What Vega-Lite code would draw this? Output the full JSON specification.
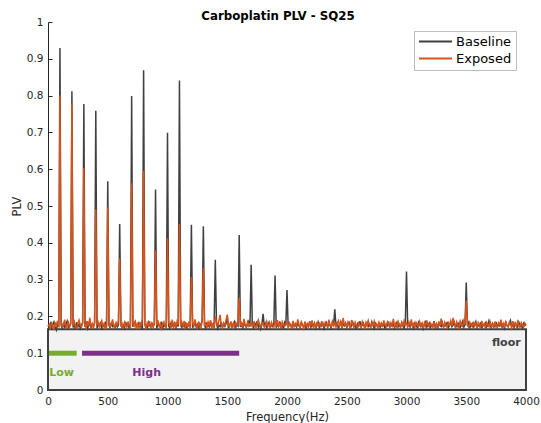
{
"$schema": "https://vega.github.io/schema/vega-lite/v6.json",
"width": 478, "height": 368, "autosize": {"type": "none"},
"padding": {"left": 48, "top": 22, "right": 15, "bottom": 33},
"background": "white",
"title": {"text": "Carboplatin PLV - SQ25", "font": "DejaVu Sans", "fontSize": 11.8, "fontWeight": "bold", "color": "#000000", "offset": -6, "dx": -9},
"config": {
  "view": {"stroke": null},
  "axis": {"grid": false, "domainColor": "#262626", "tickColor": "#262626", "labelColor": "#262626", "titleColor": "#262626", "labelFont": "DejaVu Sans", "titleFont": "DejaVu Sans", "labelFontSize": 10.5, "titleFontSize": 11.5, "titleFontWeight": "normal", "tickSize": -4, "domainWidth": 1, "tickWidth": 1, "labelFlush": false, "labelOverlap": false},
  "axisX": {"labelPadding": 10, "titlePadding": 5},
  "axisY": {"labelPadding": 9, "titlePadding": 4}
},
"datasets": {
"plv": [
{"f":0,"b":0.176,"e":0.174},{"f":10,"b":0.172,"e":0.178},{"f":20,"b":0.181,"e":0.169},{"f":30,"b":0.168,"e":0.185},{"f":40,"b":0.177,"e":0.174},{"f":50,"b":0.185,"e":0.166},{"f":60,"b":0.170,"e":0.182},{"f":70,"b":0.163,"e":0.176},{"f":80,"b":0.179,"e":0.188},{"f":90,"b":0.174,"e":0.171},
{"f":100,"b":0.929,"e":0.800},{"f":110,"b":0.176,"e":0.183},{"f":120,"b":0.166,"e":0.172},{"f":130,"b":0.183,"e":0.179},{"f":140,"b":0.171,"e":0.191},{"f":150,"b":0.178,"e":0.168},{"f":160,"b":0.187,"e":0.177},{"f":170,"b":0.169,"e":0.184},{"f":180,"b":0.175,"e":0.170},{"f":190,"b":0.181,"e":0.179},
{"f":200,"b":0.812,"e":0.777},{"f":210,"b":0.170,"e":0.175},{"f":220,"b":0.178,"e":0.186},{"f":230,"b":0.165,"e":0.173},{"f":240,"b":0.184,"e":0.168},{"f":250,"b":0.172,"e":0.181},{"f":260,"b":0.179,"e":0.190},{"f":270,"b":0.168,"e":0.176},{"f":280,"b":0.176,"e":0.171},{"f":290,"b":0.183,"e":0.183},
{"f":300,"b":0.777,"e":0.603},{"f":310,"b":0.171,"e":0.178},{"f":320,"b":0.186,"e":0.169},{"f":330,"b":0.167,"e":0.187},{"f":340,"b":0.175,"e":0.174},{"f":350,"b":0.180,"e":0.196},{"f":360,"b":0.169,"e":0.172},{"f":370,"b":0.177,"e":0.180},{"f":380,"b":0.173,"e":0.167},{"f":390,"b":0.182,"e":0.185},
{"f":400,"b":0.759,"e":0.491},{"f":410,"b":0.168,"e":0.176},{"f":420,"b":0.179,"e":0.184},{"f":430,"b":0.174,"e":0.170},{"f":440,"b":0.185,"e":0.179},{"f":450,"b":0.166,"e":0.188},{"f":460,"b":0.178,"e":0.173},{"f":470,"b":0.172,"e":0.181},{"f":480,"b":0.181,"e":0.168},{"f":490,"b":0.170,"e":0.177},
{"f":500,"b":0.567,"e":0.496},{"f":510,"b":0.176,"e":0.186},{"f":520,"b":0.169,"e":0.171},{"f":530,"b":0.184,"e":0.179},{"f":540,"b":0.173,"e":0.192},{"f":550,"b":0.178,"e":0.174},{"f":560,"b":0.165,"e":0.169},{"f":570,"b":0.182,"e":0.183},{"f":580,"b":0.171,"e":0.176},{"f":590,"b":0.177,"e":0.189},
{"f":600,"b":0.451,"e":0.357},{"f":610,"b":0.183,"e":0.172},{"f":620,"b":0.170,"e":0.180},{"f":630,"b":0.176,"e":0.167},{"f":640,"b":0.168,"e":0.184},{"f":650,"b":0.185,"e":0.177},{"f":660,"b":0.174,"e":0.171},{"f":670,"b":0.179,"e":0.186},{"f":680,"b":0.167,"e":0.175},{"f":690,"b":0.181,"e":0.169},
{"f":700,"b":0.799,"e":0.562},{"f":710,"b":0.172,"e":0.181},{"f":720,"b":0.178,"e":0.174},{"f":730,"b":0.186,"e":0.188},{"f":740,"b":0.169,"e":0.170},{"f":750,"b":0.175,"e":0.179},{"f":760,"b":0.182,"e":0.166},{"f":770,"b":0.171,"e":0.185},{"f":780,"b":0.177,"e":0.173},{"f":790,"b":0.165,"e":0.196},
{"f":800,"b":0.869,"e":0.596},{"f":810,"b":0.180,"e":0.177},{"f":820,"b":0.173,"e":0.168},{"f":830,"b":0.168,"e":0.182},{"f":840,"b":0.184,"e":0.175},{"f":850,"b":0.176,"e":0.187},{"f":860,"b":0.170,"e":0.171},{"f":870,"b":0.181,"e":0.180},{"f":880,"b":0.174,"e":0.169},{"f":890,"b":0.179,"e":0.184},
{"f":900,"b":0.545,"e":0.379},{"f":910,"b":0.167,"e":0.176},{"f":920,"b":0.183,"e":0.189},{"f":930,"b":0.175,"e":0.172},{"f":940,"b":0.171,"e":0.180},{"f":950,"b":0.186,"e":0.167},{"f":960,"b":0.169,"e":0.178},{"f":970,"b":0.177,"e":0.185},{"f":980,"b":0.172,"e":0.174},{"f":990,"b":0.180,"e":0.170},
{"f":1000,"b":0.699,"e":0.412},{"f":1010,"b":0.174,"e":0.183},{"f":1020,"b":0.168,"e":0.176},{"f":1030,"b":0.183,"e":0.169},{"f":1040,"b":0.176,"e":0.191},{"f":1050,"b":0.171,"e":0.173},{"f":1060,"b":0.185,"e":0.181},{"f":1070,"b":0.166,"e":0.168},{"f":1080,"b":0.179,"e":0.186},{"f":1090,"b":0.173,"e":0.177},
{"f":1100,"b":0.841,"e":0.451},{"f":1110,"b":0.181,"e":0.172},{"f":1120,"b":0.170,"e":0.184},{"f":1130,"b":0.177,"e":0.175},{"f":1140,"b":0.172,"e":0.188},{"f":1150,"b":0.184,"e":0.170},{"f":1160,"b":0.167,"e":0.179},{"f":1170,"b":0.178,"e":0.173},{"f":1180,"b":0.174,"e":0.186},{"f":1190,"b":0.182,"e":0.168},
{"f":1200,"b":0.449,"e":0.307},{"f":1210,"b":0.169,"e":0.181},{"f":1220,"b":0.176,"e":0.174},{"f":1230,"b":0.185,"e":0.192},{"f":1240,"b":0.171,"e":0.176},{"f":1250,"b":0.178,"e":0.169},{"f":1260,"b":0.166,"e":0.183},{"f":1270,"b":0.180,"e":0.177},{"f":1280,"b":0.173,"e":0.170},{"f":1290,"b":0.190,"e":0.187},
{"f":1300,"b":0.445,"e":0.331},{"f":1310,"b":0.175,"e":0.174},{"f":1320,"b":0.168,"e":0.181},{"f":1330,"b":0.182,"e":0.168},{"f":1340,"b":0.177,"e":0.185},{"f":1350,"b":0.171,"e":0.176},{"f":1360,"b":0.186,"e":0.190},{"f":1370,"b":0.169,"e":0.172},{"f":1380,"b":0.179,"e":0.179},{"f":1390,"b":0.174,"e":0.167},
{"f":1400,"b":0.354,"e":0.200},{"f":1410,"b":0.181,"e":0.184},{"f":1420,"b":0.167,"e":0.173},{"f":1430,"b":0.176,"e":0.188},{"f":1440,"b":0.172,"e":0.204},{"f":1450,"b":0.184,"e":0.176},{"f":1460,"b":0.170,"e":0.170},{"f":1470,"b":0.178,"e":0.182},{"f":1480,"b":0.173,"e":0.175},{"f":1490,"b":0.180,"e":0.190},
{"f":1500,"b":0.200,"e":0.205},{"f":1510,"b":0.168,"e":0.178},{"f":1520,"b":0.177,"e":0.171},{"f":1530,"b":0.183,"e":0.186},{"f":1540,"b":0.171,"e":0.174},{"f":1550,"b":0.176,"e":0.181},{"f":1560,"b":0.185,"e":0.169},{"f":1570,"b":0.169,"e":0.183},{"f":1580,"b":0.178,"e":0.176},{"f":1590,"b":0.174,"e":0.188},
{"f":1600,"b":0.421,"e":0.250},{"f":1610,"b":0.171,"e":0.175},{"f":1620,"b":0.180,"e":0.182},{"f":1630,"b":0.167,"e":0.170},{"f":1640,"b":0.183,"e":0.193},{"f":1650,"b":0.175,"e":0.177},{"f":1660,"b":0.170,"e":0.172},{"f":1670,"b":0.178,"e":0.185},{"f":1680,"b":0.186,"e":0.174},{"f":1690,"b":0.172,"e":0.180},
{"f":1700,"b":0.340,"e":0.183},{"f":1710,"b":0.176,"e":0.171},{"f":1720,"b":0.169,"e":0.186},{"f":1730,"b":0.182,"e":0.175},{"f":1740,"b":0.174,"e":0.169},{"f":1750,"b":0.187,"e":0.182},{"f":1760,"b":0.171,"e":0.190},{"f":1770,"b":0.179,"e":0.176},{"f":1780,"b":0.166,"e":0.172},{"f":1790,"b":0.177,"e":0.183},
{"f":1800,"b":0.207,"e":0.181},{"f":1810,"b":0.173,"e":0.170},{"f":1820,"b":0.181,"e":0.178},{"f":1830,"b":0.168,"e":0.187},{"f":1840,"b":0.176,"e":0.173},{"f":1850,"b":0.184,"e":0.179},{"f":1860,"b":0.170,"e":0.168},{"f":1870,"b":0.178,"e":0.184},{"f":1880,"b":0.173,"e":0.176},{"f":1890,"b":0.182,"e":0.171},
{"f":1900,"b":0.311,"e":0.186},{"f":1910,"b":0.169,"e":0.177},{"f":1920,"b":0.177,"e":0.190},{"f":1930,"b":0.174,"e":0.172},{"f":1940,"b":0.186,"e":0.180},{"f":1950,"b":0.171,"e":0.168},{"f":1960,"b":0.179,"e":0.185},{"f":1970,"b":0.167,"e":0.176},{"f":1980,"b":0.183,"e":0.173},{"f":1990,"b":0.175,"e":0.181},
{"f":2000,"b":0.272,"e":0.184},{"f":2010,"b":0.170,"e":0.171},{"f":2020,"b":0.180,"e":0.183},{"f":2030,"b":0.176,"e":0.177},{"f":2040,"b":0.168,"e":0.169},{"f":2050,"b":0.185,"e":0.188},{"f":2060,"b":0.173,"e":0.174},{"f":2070,"b":0.178,"e":0.181},{"f":2080,"b":0.171,"e":0.175},{"f":2090,"b":0.182,"e":0.192},
{"f":2100,"b":0.175,"e":0.178},{"f":2110,"b":0.169,"e":0.170},{"f":2120,"b":0.184,"e":0.184},{"f":2130,"b":0.177,"e":0.176},{"f":2140,"b":0.172,"e":0.167},{"f":2150,"b":0.180,"e":0.186},{"f":2160,"b":0.166,"e":0.173},{"f":2170,"b":0.178,"e":0.180},{"f":2180,"b":0.174,"e":0.171},{"f":2190,"b":0.187,"e":0.183},
{"f":2200,"b":0.171,"e":0.176},{"f":2210,"b":0.179,"e":0.189},{"f":2220,"b":0.173,"e":0.172},{"f":2230,"b":0.182,"e":0.179},{"f":2240,"b":0.168,"e":0.168},{"f":2250,"b":0.176,"e":0.185},{"f":2260,"b":0.185,"e":0.175},{"f":2270,"b":0.170,"e":0.181},{"f":2280,"b":0.178,"e":0.170},{"f":2290,"b":0.174,"e":0.187},
{"f":2300,"b":0.181,"e":0.176},{"f":2310,"b":0.167,"e":0.173},{"f":2320,"b":0.176,"e":0.184},{"f":2330,"b":0.183,"e":0.178},{"f":2340,"b":0.172,"e":0.169},{"f":2350,"b":0.179,"e":0.191},{"f":2360,"b":0.175,"e":0.177},{"f":2370,"b":0.169,"e":0.172},{"f":2380,"b":0.184,"e":0.186},{"f":2390,"b":0.177,"e":0.175},
{"f":2400,"b":0.219,"e":0.182},{"f":2410,"b":0.173,"e":0.171},{"f":2420,"b":0.181,"e":0.180},{"f":2430,"b":0.168,"e":0.188},{"f":2440,"b":0.176,"e":0.174},{"f":2450,"b":0.186,"e":0.183},{"f":2460,"b":0.171,"e":0.169},{"f":2470,"b":0.179,"e":0.196},{"f":2480,"b":0.174,"e":0.176},{"f":2490,"b":0.182,"e":0.181},
{"f":2500,"b":0.170,"e":0.173},{"f":2510,"b":0.177,"e":0.185},{"f":2520,"b":0.183,"e":0.177},{"f":2530,"b":0.169,"e":0.168},{"f":2540,"b":0.175,"e":0.190},{"f":2550,"b":0.184,"e":0.179},{"f":2560,"b":0.172,"e":0.172},{"f":2570,"b":0.178,"e":0.184},{"f":2580,"b":0.166,"e":0.175},{"f":2590,"b":0.180,"e":0.170},
{"f":2600,"b":0.174,"e":0.182},{"f":2610,"b":0.187,"e":0.176},{"f":2620,"b":0.171,"e":0.171},{"f":2630,"b":0.177,"e":0.186},{"f":2640,"b":0.182,"e":0.178},{"f":2650,"b":0.169,"e":0.169},{"f":2660,"b":0.176,"e":0.183},{"f":2670,"b":0.183,"e":0.174},{"f":2680,"b":0.173,"e":0.188},{"f":2690,"b":0.179,"e":0.177},
{"f":2700,"b":0.170,"e":0.170},{"f":2710,"b":0.185,"e":0.181},{"f":2720,"b":0.175,"e":0.176},{"f":2730,"b":0.168,"e":0.187},{"f":2740,"b":0.181,"e":0.173},{"f":2750,"b":0.176,"e":0.179},{"f":2760,"b":0.172,"e":0.168},{"f":2770,"b":0.184,"e":0.184},{"f":2780,"b":0.170,"e":0.175},{"f":2790,"b":0.178,"e":0.182},
{"f":2800,"b":0.174,"e":0.171},{"f":2810,"b":0.182,"e":0.189},{"f":2820,"b":0.167,"e":0.177},{"f":2830,"b":0.179,"e":0.172},{"f":2840,"b":0.175,"e":0.185},{"f":2850,"b":0.186,"e":0.179},{"f":2860,"b":0.171,"e":0.170},{"f":2870,"b":0.177,"e":0.183},{"f":2880,"b":0.173,"e":0.176},{"f":2890,"b":0.181,"e":0.193},
{"f":2900,"b":0.169,"e":0.174},{"f":2910,"b":0.176,"e":0.181},{"f":2920,"b":0.184,"e":0.169},{"f":2930,"b":0.172,"e":0.186},{"f":2940,"b":0.178,"e":0.177},{"f":2950,"b":0.170,"e":0.171},{"f":2960,"b":0.183,"e":0.184},{"f":2970,"b":0.175,"e":0.175},{"f":2980,"b":0.168,"e":0.188},{"f":2990,"b":0.180,"e":0.178},
{"f":3000,"b":0.322,"e":0.182},{"f":3010,"b":0.173,"e":0.170},{"f":3020,"b":0.179,"e":0.185},{"f":3030,"b":0.171,"e":0.176},{"f":3040,"b":0.186,"e":0.192},{"f":3050,"b":0.174,"e":0.173},{"f":3060,"b":0.168,"e":0.180},{"f":3070,"b":0.182,"e":0.169},{"f":3080,"b":0.176,"e":0.184},{"f":3090,"b":0.170,"e":0.177},
{"f":3100,"b":0.184,"e":0.172},{"f":3110,"b":0.177,"e":0.186},{"f":3120,"b":0.172,"e":0.175},{"f":3130,"b":0.180,"e":0.181},{"f":3140,"b":0.167,"e":0.168},{"f":3150,"b":0.178,"e":0.183},{"f":3160,"b":0.185,"e":0.174},{"f":3170,"b":0.171,"e":0.189},{"f":3180,"b":0.176,"e":0.176},{"f":3190,"b":0.182,"e":0.171},
{"f":3200,"b":0.169,"e":0.182},{"f":3210,"b":0.177,"e":0.177},{"f":3220,"b":0.174,"e":0.170},{"f":3230,"b":0.187,"e":0.185},{"f":3240,"b":0.171,"e":0.173},{"f":3250,"b":0.179,"e":0.180},{"f":3260,"b":0.166,"e":0.168},{"f":3270,"b":0.181,"e":0.186},{"f":3280,"b":0.175,"e":0.175},{"f":3290,"b":0.172,"e":0.194},
{"f":3300,"b":0.183,"e":0.179},{"f":3310,"b":0.170,"e":0.171},{"f":3320,"b":0.178,"e":0.184},{"f":3330,"b":0.174,"e":0.176},{"f":3340,"b":0.185,"e":0.170},{"f":3350,"b":0.169,"e":0.183},{"f":3360,"b":0.177,"e":0.177},{"f":3370,"b":0.181,"e":0.188},{"f":3380,"b":0.172,"e":0.174},{"f":3390,"b":0.176,"e":0.196},
{"f":3400,"b":0.184,"e":0.181},{"f":3410,"b":0.168,"e":0.172},{"f":3420,"b":0.179,"e":0.185},{"f":3430,"b":0.173,"e":0.176},{"f":3440,"b":0.182,"e":0.169},{"f":3450,"b":0.170,"e":0.187},{"f":3460,"b":0.177,"e":0.178},{"f":3470,"b":0.186,"e":0.173},{"f":3480,"b":0.171,"e":0.189},{"f":3490,"b":0.178,"e":0.182},
{"f":3500,"b":0.292,"e":0.243},{"f":3510,"b":0.174,"e":0.176},{"f":3520,"b":0.183,"e":0.170},{"f":3530,"b":0.169,"e":0.184},{"f":3540,"b":0.176,"e":0.177},{"f":3550,"b":0.181,"e":0.172},{"f":3560,"b":0.172,"e":0.186},{"f":3570,"b":0.178,"e":0.174},{"f":3580,"b":0.186,"e":0.181},{"f":3590,"b":0.170,"e":0.169},
{"f":3600,"b":0.177,"e":0.183},{"f":3610,"b":0.173,"e":0.176},{"f":3620,"b":0.184,"e":0.171},{"f":3630,"b":0.168,"e":0.188},{"f":3640,"b":0.179,"e":0.175},{"f":3650,"b":0.175,"e":0.180},{"f":3660,"b":0.182,"e":0.168},{"f":3670,"b":0.171,"e":0.184},{"f":3680,"b":0.177,"e":0.177},{"f":3690,"b":0.188,"e":0.172},
{"f":3700,"b":0.174,"e":0.185},{"f":3710,"b":0.169,"e":0.173},{"f":3720,"b":0.181,"e":0.180},{"f":3730,"b":0.176,"e":0.169},{"f":3740,"b":0.172,"e":0.186},{"f":3750,"b":0.185,"e":0.176},{"f":3760,"b":0.170,"e":0.171},{"f":3770,"b":0.178,"e":0.183},{"f":3780,"b":0.174,"e":0.177},{"f":3790,"b":0.183,"e":0.191},
{"f":3800,"b":0.171,"e":0.174},{"f":3810,"b":0.177,"e":0.181},{"f":3820,"b":0.168,"e":0.170},{"f":3830,"b":0.186,"e":0.185},{"f":3840,"b":0.175,"e":0.176},{"f":3850,"b":0.172,"e":0.172},{"f":3860,"b":0.180,"e":0.184},{"f":3870,"b":0.189,"e":0.178},{"f":3880,"b":0.173,"e":0.169},{"f":3890,"b":0.178,"e":0.187},
{"f":3900,"b":0.170,"e":0.175},{"f":3910,"b":0.182,"e":0.181},{"f":3920,"b":0.176,"e":0.172},{"f":3930,"b":0.171,"e":0.186},{"f":3940,"b":0.184,"e":0.177},{"f":3950,"b":0.174,"e":0.170},{"f":3960,"b":0.179,"e":0.183},{"f":3970,"b":0.167,"e":0.176},{"f":3980,"b":0.181,"e":0.171},{"f":3990,"b":0.175,"e":0.182},
{"f":4000,"b":0.178,"e":0.176}
]
},
"layer": [
  {
    "data": {"values": [{"x1": 0, "x2": 4000, "y1": 0, "y2": 0.165}]},
    "mark": {"type": "rect", "fill": "#f2f2f2", "stroke": "#404040", "strokeWidth": 2},
    "encoding": {
      "x": {"field": "x1", "type": "quantitative", "title": "Frequency(Hz)", "scale": {"domain": [0, 4000], "nice": false, "zero": false}, "axis": {"values": [0,500,1000,1500,2000,2500,3000,3500,4000], "tickCount": 20, "format": "d"}},
      "x2": {"field": "x2"},
      "y": {"field": "y1", "type": "quantitative", "title": "PLV", "scale": {"domain": [0, 1], "nice": false, "zero": false}, "axis": {"values": [0,0.1,0.2,0.3,0.4,0.5,0.6,0.7,0.8,0.9,1], "tickCount": 20, "format": "~g"}},
      "y2": {"field": "y2"}
    }
  },
  {
    "data": {"name": "plv"},
    "mark": {"type": "line", "strokeWidth": 1.5},
    "encoding": {
      "x": {"field": "f", "type": "quantitative", "title": "Frequency(Hz)"},
      "y": {"field": "b", "type": "quantitative", "title": "PLV"},
      "color": {"datum": "Baseline", "type": "nominal", "scale": {"domain": ["Baseline", "Exposed"], "range": ["#404040", "#D95319"]},
        "legend": {"orient": "none", "legendX": 366, "legendY": 9, "title": null, "symbolType": "M-1,0H5", "symbolSize": 121, "symbolStrokeWidth": 2, "labelOffset": 25, "labelFontSize": 13, "labelFont": "DejaVu Sans", "labelColor": "#000000", "padding": 4, "fillColor": "white", "strokeColor": "#bdbdbd", "rowPadding": 3, "cornerRadius": 0}}
    }
  },
  {
    "data": {"name": "plv"},
    "mark": {"type": "line", "strokeWidth": 1.5},
    "encoding": {
      "x": {"field": "f", "type": "quantitative", "title": "Frequency(Hz)"},
      "y": {"field": "e", "type": "quantitative", "title": "PLV"},
      "color": {"datum": "Exposed", "type": "nominal"}
    }
  },
  {
    "data": {"values": [{"a": 8, "b": 240, "v": 0.1}]},
    "mark": {"type": "rule", "color": "#77AC30", "strokeWidth": 5},
    "encoding": {"x": {"field": "a", "type": "quantitative"}, "x2": {"field": "b"}, "y": {"field": "v", "type": "quantitative"}}
  },
  {
    "data": {"values": [{"a": 285, "b": 1600, "v": 0.1}]},
    "mark": {"type": "rule", "color": "#7E2F8E", "strokeWidth": 5},
    "encoding": {"x": {"field": "a", "type": "quantitative"}, "x2": {"field": "b"}, "y": {"field": "v", "type": "quantitative"}}
  },
  {
    "data": {"values": [{"f": 10, "v": 0.047, "t": "Low"}]},
    "mark": {"type": "text", "color": "#77AC30", "font": "DejaVu Sans", "fontWeight": "bold", "fontSize": 11, "align": "left", "baseline": "middle"},
    "encoding": {"x": {"field": "f", "type": "quantitative"}, "y": {"field": "v", "type": "quantitative"}, "text": {"field": "t"}}
  },
  {
    "data": {"values": [{"f": 826, "v": 0.047, "t": "High"}]},
    "mark": {"type": "text", "color": "#7E2F8E", "font": "DejaVu Sans", "fontWeight": "bold", "fontSize": 11, "align": "center", "baseline": "middle"},
    "encoding": {"x": {"field": "f", "type": "quantitative"}, "y": {"field": "v", "type": "quantitative"}, "text": {"field": "t"}}
  },
  {
    "data": {"values": [{"f": 3955, "v": 0.127, "t": "floor"}]},
    "mark": {"type": "text", "color": "#404040", "font": "DejaVu Sans", "fontWeight": "bold", "fontSize": 11, "align": "right", "baseline": "middle"},
    "encoding": {"x": {"field": "f", "type": "quantitative"}, "y": {"field": "v", "type": "quantitative"}, "text": {"field": "t"}}
  }
]
}
